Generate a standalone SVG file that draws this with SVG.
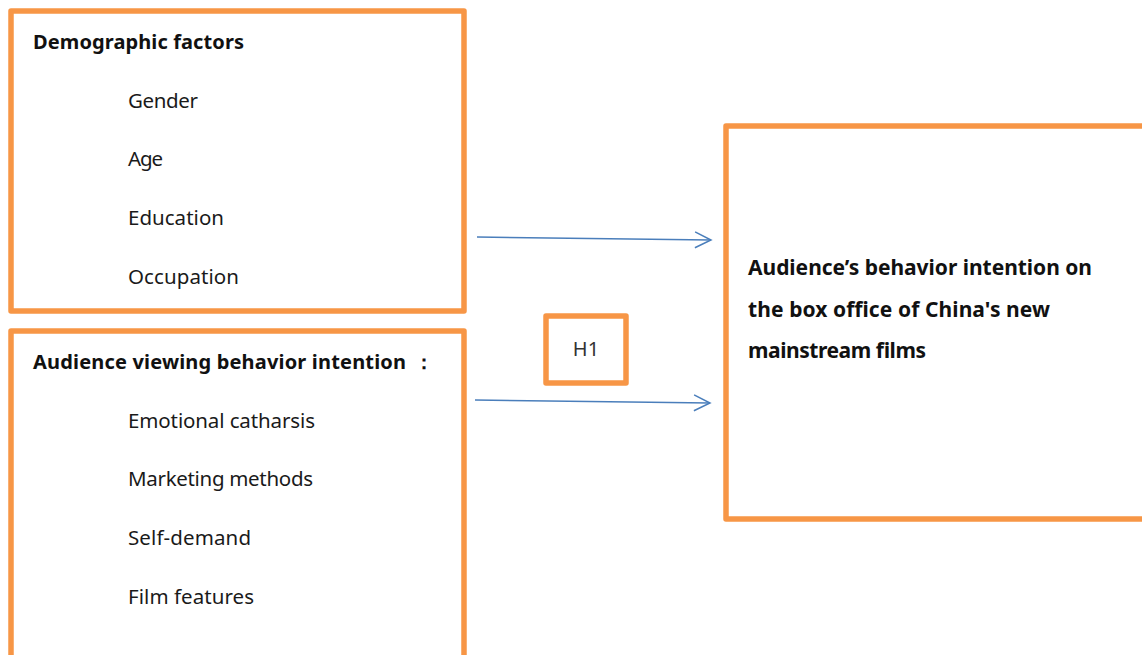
<svg xmlns="http://www.w3.org/2000/svg" width="1142" height="655" viewBox="0 0 1142 655">
<style>
.box{fill:#fff;stroke:#F79646;stroke-width:5.5;stroke-linejoin:round}
.t{font-family:"Noto Sans","Open Sans",sans-serif;fill:#111}
.h{font-size:20px;font-weight:bold}
.r{font-size:21px;font-weight:bold}
.i{font-size:20.5px;fill:#1a1a1a}
.c{stroke:#4A7EBB;stroke-width:1.5;fill:none}
</style>
<defs>
<marker id="arr" viewBox="0 0 20 20" refX="18" refY="10" markerWidth="20" markerHeight="20" markerUnits="userSpaceOnUse" orient="auto">
<path d="M2,2 L18,10 L2,18" fill="none" stroke="#4A7EBB" stroke-width="1.5"/>
</marker>
</defs>
<rect width="1142" height="655" fill="#fff"/>
<g id="demographic">
<rect class="box" x="11" y="11" width="453" height="300"/>
<text class="t h" x="33" y="49" textLength="211">Demographic factors</text>
<text class="t i" x="128" y="108" textLength="70">Gender</text>
<text class="t i" x="128" y="166" textLength="35">Age</text>
<text class="t i" x="128" y="225" textLength="96">Education</text>
<text class="t i" x="128" y="284" textLength="111">Occupation</text>
</g>
<g id="viewing">
<rect class="box" x="11" y="331" width="453" height="340"/>
<text class="t h" x="33" y="369" textLength="373">Audience viewing behavior intention</text>
<text class="t h" x="424" y="369" font-size="26" text-anchor="middle">：</text>
<text class="t i" x="128" y="428" textLength="187">Emotional catharsis</text>
<text class="t i" x="128" y="486" textLength="185">Marketing methods</text>
<text class="t i" x="128" y="545" textLength="123">Self-demand</text>
<text class="t i" x="128" y="604" textLength="126">Film features</text>
</g>
<g id="h1">
<rect class="box" x="546" y="316" width="80" height="67"/>
<text class="t" x="586" y="356" font-size="20" text-anchor="middle" style="fill:#333">H1</text>
</g>
<g id="outcome">
<rect class="box" x="726" y="126" width="430" height="393"/>
<text class="t r" x="748" y="275" textLength="344">Audience’s behavior intention on</text>
<text class="t r" x="748" y="317" textLength="302">the box office of China's new</text>
<text class="t r" x="748" y="358" textLength="178">mainstream films</text>
</g>
<g id="connectors">
<line class="c" x1="477" y1="237" x2="711" y2="240" marker-end="url(#arr)"/>
<line class="c" x1="475" y1="400" x2="710" y2="403" marker-end="url(#arr)"/>
</g>
</svg>
